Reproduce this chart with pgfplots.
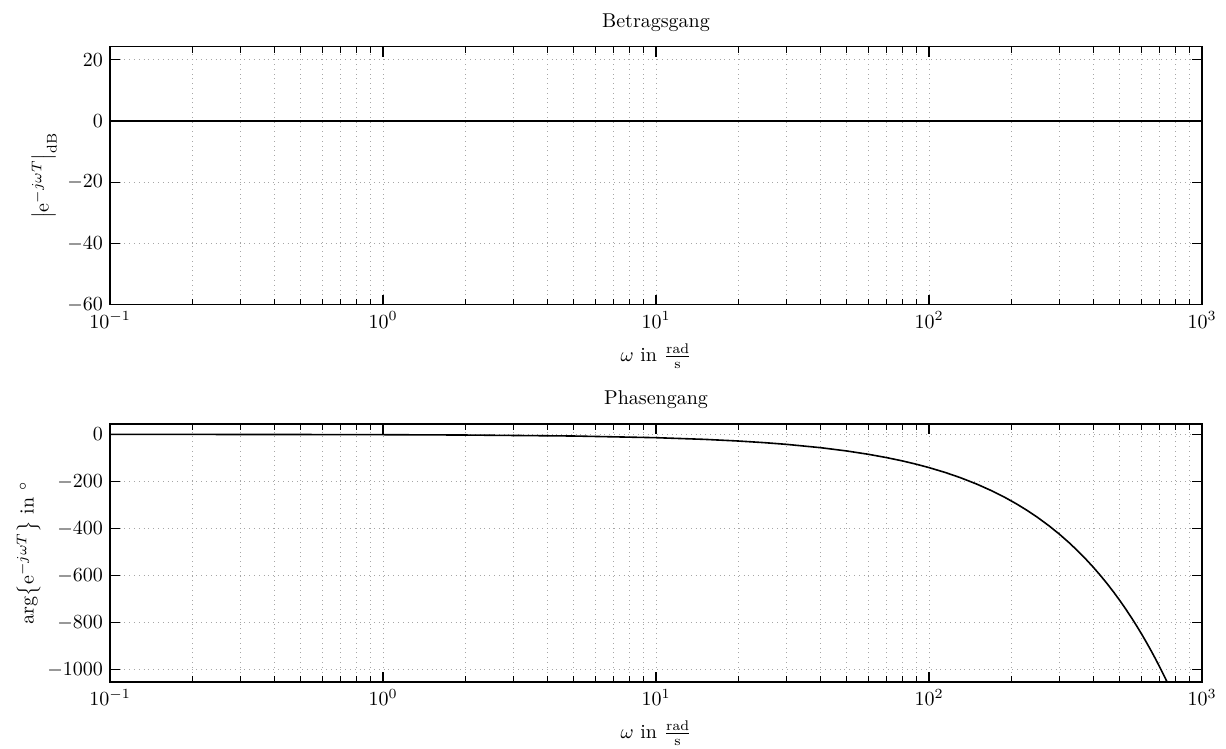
\documentclass[border=0pt]{standalone}
\usepackage{pgfplots}
\pgfplotsset{compat=1.18}
\pgfplotsset{
  bodestyle/.style={
    scale only axis,
    width=546pt,
    xmin=0.1, xmax=1000,
    grid=both,
    major grid style={dotted, gray!70},
    minor grid style={dotted, gray!70},
    major tick length=5pt,
    minor tick length=3pt,
    tick style={black, semithick},
    axis line style={semithick},
    xlabel={$\omega$ in $\frac{\mathrm{rad}}{\mathrm{s}}$},
    xlabel style={yshift=-1pt},
    title style={yshift=-2pt},
    /pgf/number format/1000 sep={},
  }
}
\begin{document}
\begin{tikzpicture}
\begin{axis}[xmode=log, bodestyle,
  at={(55pt,-23.35pt)}, anchor=north west,
  height=129pt,
  ymin=-60, ymax=24.2,
  ytick={-60,-40,-20,0,20},
  title={Betragsgang},
  ylabel shift=-1.5pt,
  ylabel={$\left|\mathrm{e}^{-j\omega T}\right|_{\mathrm{dB}}$},
]
\addplot[black, thick] coordinates {(0.1,0) (1,0) (10,0) (100,0) (1000,0)};
\end{axis}
\begin{axis}[xmode=log, bodestyle,
  at={(55pt,-212pt)}, anchor=north west,
  height=129pt,
  ymin=-1052, ymax=44,
  ytick={-1000,-800,-600,-400,-200,0},
  title={Phasengang},
  ylabel shift=-3.5pt,
  ylabel={$\arg\!\left\{\mathrm{e}^{-j\omega T}\right\}$ in $^\circ$},
]
\addplot[black, thick] coordinates {
(0.1,-0.1412) (0.2,-0.2824) (0.5,-0.706) (1,-1.412) (2,-2.824) (5,-7.06)
(10,-14.12) (15,-21.18) (20,-28.24) (25,-35.3) (30,-42.36) (40,-56.48)
(50,-70.6) (60,-84.72) (70,-98.84) (80,-112.96) (90,-127.08) (100,-141.2)
(115,-162.38) (130,-183.56) (150,-211.8) (170,-240.04) (190,-268.28)
(210,-296.52) (230,-324.76) (250,-353) (275,-388.3) (300,-423.6)
(325,-458.9) (350,-494.2) (375,-529.5) (400,-564.8) (425,-600.1)
(450,-635.4) (475,-670.7) (500,-706) (525,-741.3) (550,-776.6)
(575,-811.9) (600,-847.2) (625,-882.5) (650,-917.8) (675,-953.1)
(700,-988.4) (725,-1023.7) (750,-1059)
};
\end{axis}
\pgfresetboundingbox
\path[use as bounding box] (0pt,0pt) rectangle (613pt,-374.5pt);
\end{tikzpicture}
\end{document}
